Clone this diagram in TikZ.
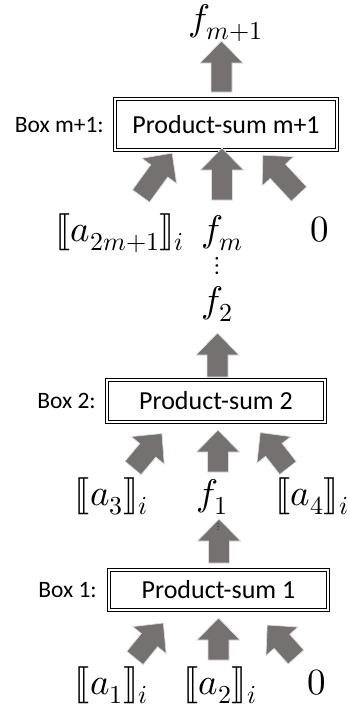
\documentclass[tikz,border=0pt]{standalone}
\usepackage{fontspec}
\usepackage{unicode-math}
\setmainfont{Carlito}
\setmathfont{Latin Modern Math}
\definecolor{agray}{RGB}{118,113,113}
\definecolor{aedge}{RGB}{222,220,220}
\tikzset{
  arrowbody/.style={fill=agray, draw=aedge, line width=0.7pt, line join=miter},
  pics/barrow/.style={code={
    \path[arrowbody] (0,-10.5) -- (#1-22,-10.5) -- (#1-22,-21.5) -- (#1,0)
      -- (#1-22,21.5) -- (#1-22,10.5) -- (0,10.5) -- cycle;}},
  psbox/.style={draw, double=white, double distance=1.6pt, line width=1pt,
    inner sep=0pt, font=\fontsize{26}{30}\selectfont},
  boxlabel/.style={anchor=east, inner sep=0pt, font=\fontsize{23.5}{28}\selectfont},
  mlabel/.style={anchor=base, inner sep=0pt, font=\fontsize{37}{42}\selectfont},
}
\begin{document}
\begin{tikzpicture}[x=1pt, y=-1pt]
\useasboundingbox (0,0) rectangle (349,715);

% ---------- Box m+1 ----------
\node[mlabel] (fm1) at (225.5,30) {$f_{m+1}$};
\pic[rotate=90] at (221.5,92) {barrow=51};
\node[psbox, minimum width=222.4pt, minimum height=51.4pt] (b3) at (226,124.5) {Product-sum m+1};
\node[boxlabel] (l3) at (104,125) {Box m+1:};
\pic[rotate=54] at (141,196) {barrow=53};
\pic[rotate=90] at (222,200) {barrow=52};
\pic[rotate=133] at (299,194) {barrow=53};
\node[mlabel] (a2m1) at (120,241) {$\lBrack a_{2m+1}\rBrack_i$};
\node[mlabel] (fm) at (222.5,241) {$f_m$};
\node[mlabel] (z3) at (319.5,241) {$0$};
\node[inner sep=0pt, font=\fontsize{26}{30}\selectfont] (vd) at (217,266) {$\vdots$};
\node[mlabel] (f2) at (217.5,312) {$f_2$};

% ---------- Box 2 ----------
\pic[rotate=90] at (217.5,377) {barrow=44};
\node[psbox, minimum width=218.4pt, minimum height=42.4pt] (b2) at (216,401) {Product-sum 2};
\node[boxlabel] (l2) at (96,401) {Box 2:};
\pic[rotate=50] at (133,468) {barrow=45};
\pic[rotate=90] at (218,472) {barrow=42};
\pic[rotate=128] at (288,468) {barrow=45};
\node[mlabel] (a3) at (111.5,505) {$\lBrack a_3\rBrack_i$};
\node[mlabel] (f1) at (212.5,505) {$f_1$};
\node[mlabel] (a4) at (312,505) {$\lBrack a_4\rBrack_i$};

% ---------- Box 1 ----------
\pic[rotate=90] at (219,563) {barrow=44};
\node[inner sep=0pt, font=\fontsize{10}{12}\selectfont] (sd) at (218.5,527) {$\vdots$};
\node[psbox, minimum width=219.4pt, minimum height=40.4pt] (b1) at (218.5,590) {Product-sum 1};
\node[boxlabel] (l1) at (97,590) {Box 1:};
\pic[rotate=51] at (135,658) {barrow=45};
\pic[rotate=90] at (218.5,660) {barrow=42};
\pic[rotate=132] at (296,657) {barrow=43};
\node[mlabel] (a1) at (111.5,694) {$\lBrack a_1\rBrack_i$};
\node[mlabel] (a2) at (220,694) {$\lBrack a_2\rBrack_i$};
\node[mlabel] (z1) at (316.5,694) {$0$};
\end{tikzpicture}
\end{document}
